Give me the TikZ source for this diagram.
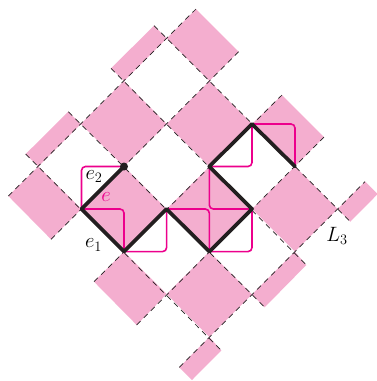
\documentclass[tikz,border=0pt]{standalone}
\definecolor{pinkfill}{HTML}{F4AECF}
\definecolor{hotpink}{HTML}{EC008C}
\definecolor{inkblack}{HTML}{231F20}
\tikzset{
  cellfill/.style={fill=pinkfill,draw=none},
  latticeline/.style={draw=inkblack,line width=0.7pt,dash pattern=on 5.5pt off 4.5pt},
  pinkbend/.style={draw=hotpink,line width=1.6pt,rounded corners=4pt},
  walkline/.style={draw=inkblack,line width=3.7pt,line join=round,line cap=round},
  labeltext/.style={inner sep=0pt,font=\huge}
}
\begin{document}
\begin{tikzpicture}[x=1pt,y=-1pt]
\useasboundingbox (0,0) rectangle (377,381);
% pink cells
\fill[cellfill] (209.3,81) -- (238.7,51.7) -- (196,9) -- (166.7,38.4) -- cycle;
\fill[cellfill] (154,25.7) -- (166.7,38.3) -- (124,81) -- (111,68.3) -- cycle;
\fill[cellfill] (68.3,111.7) -- (80.9,124) -- (38.3,166.5) -- (25.7,154) -- cycle;
\fill[cellfill] (38.3,166.5) -- (81.5,209) -- (51,239.3) -- (8.3,196) -- cycle;
\fill[cellfill] (80.9,124) -- (124,81) -- (166.7,124) -- (124,166.5) -- cycle;
\fill[cellfill] (166.7,124) -- (209.3,81) -- (252,124) -- (209.3,166.5) -- cycle;
\fill[cellfill] (252,124) -- (295,166.5) -- (324,137) -- (282,95) -- cycle;
\fill[cellfill] (81.5,209) -- (124,166.5) -- (166.6,209) -- (124,251.6) -- cycle;
\fill[cellfill] (166.6,209) -- (209.3,166.5) -- (252,209) -- (209.3,251.6) -- cycle;
\fill[cellfill] (252,209) -- (295,166.5) -- (337.6,209) -- (295,251.6) -- cycle;
\fill[cellfill] (337.6,209) -- (350.3,221.7) -- (377.7,194) -- (365,181.5) -- cycle;
\fill[cellfill] (124,251.6) -- (166.6,294) -- (136.7,325) -- (94,281.7) -- cycle;
\fill[cellfill] (166.6,294) -- (209.3,251.6) -- (252,294.5) -- (209.3,337) -- cycle;
\fill[cellfill] (294.8,251.6) -- (306.3,265) -- (264.7,307.3) -- (252,294.5) -- cycle;
\fill[cellfill] (209.3,337) -- (221.4,350.5) -- (192,380) -- (179.3,367.3) -- cycle;
% dashed lattice lines
\draw[latticeline] (8.3,196) -- (196,9);
\draw[latticeline] (51,239.3) -- (238.7,51.7);
\draw[latticeline] (94,281.7) -- (282,95);
\draw[latticeline] (136.7,325) -- (324,137);
\draw[latticeline] (179.3,367.3) -- (365,181.5);
\draw[latticeline] (154,25.7) -- (350.3,221.7);
\draw[latticeline] (111,68.3) -- (306.3,265);
\draw[latticeline] (68.3,111.7) -- (264.7,307.3);
\draw[latticeline] (25.7,154) -- (221.4,350.5);
% magenta bends
\draw[pinkbend] (81.5,209) -- (81.5,166.5) -- (124,166.5);
\draw[pinkbend] (81.5,209) -- (124,209) -- (124,251.6);
\draw[pinkbend] (124,251.6) -- (166.6,251.6) -- (166.6,209);
\draw[pinkbend] (166.6,209) -- (209.3,209) -- (209.3,251.6);
\draw[pinkbend] (209.3,251.6) -- (252,251.6) -- (252,209);
\draw[pinkbend] (252,209) -- (209.3,209) -- (209.3,166.5);
\draw[pinkbend] (209.3,166.5) -- (252,166.5) -- (252,124);
\draw[pinkbend] (252,124) -- (295,124) -- (295,166.5);
% thick walk
\draw[walkline] (124,166.5) -- (81.5,209) -- (124,251.6) -- (166.6,209) -- (209.3,251.6) -- (252,209) -- (209.3,166.5) -- (252,124) -- (295,166.5);
\fill[inkblack] (124,166.5) circle (4pt);
% labels
\node[labeltext] (e2) at (94,176.5) {$e_2$};
\node[labeltext,text=hotpink] (e) at (106,197.5) {$e$};
\node[labeltext] (e1) at (93.5,245) {$e_1$};
\node[labeltext] (L3) at (337,235.5) {$L_3$};
\end{tikzpicture}
\end{document}
